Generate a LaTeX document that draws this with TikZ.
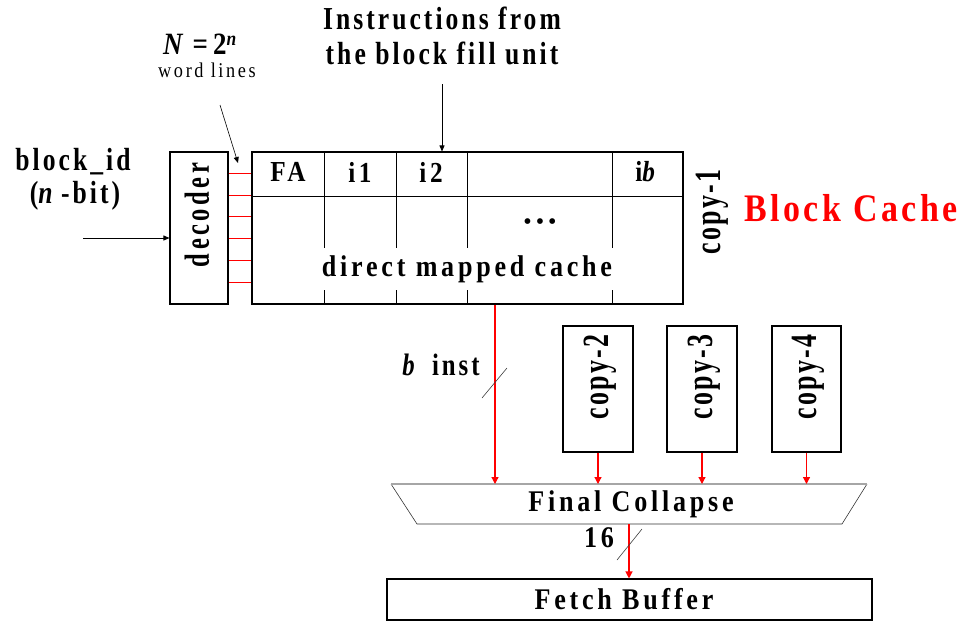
\documentclass[tikz,border=0pt]{standalone}
\usepackage{fontspec}
\setmainfont{Liberation Serif}
\newfontfamily\spfont[LetterSpace=12.5,FakeStretch=0.87]{Liberation Serif}
\newfontfamily\hfont[LetterSpace=9.5,FakeStretch=0.8]{Liberation Serif}
\newfontfamily\bcfont[LetterSpace=9,FakeStretch=0.87]{Liberation Serif}
\newfontfamily\rotA[LetterSpace=10,FakeStretch=0.7]{Liberation Serif}
\newfontfamily\rotB[LetterSpace=6,FakeStretch=0.7]{Liberation Serif}
\usetikzlibrary{arrows.meta}
\begin{document}
\begin{tikzpicture}[x=1pt,y=-1pt,
  box/.style={draw,line width=1.1pt,rectangle,inner sep=0pt},
  lbl/.style={font=\spfont\bfseries\fontsize{29}{30}\selectfont,inner sep=1pt},
  copylbl/.style={rotate=90,inner sep=1pt,font=\rotB\bfseries\fontsize{37}{30}\selectfont},
  wire/.style={line width=0.9pt},
  redarr/.style={red,line width=1.2pt,-{Triangle[length=7pt,width=7pt]}},
  blkarr/.style={black,line width=0.8pt,-{Triangle[length=6pt,width=5pt]}},
  slash/.style={black!75,line width=0.6pt}]
\useasboundingbox (0,0) rectangle (962,622);
% boxes
\node[box,minimum width=58pt,minimum height=152pt] (decoder) at (199,228) {};
\node[rotate=90,inner sep=1pt,font=\rotA\bfseries\fontsize{35}{30}\selectfont] (dectext) at (197,215) {decoder};
\node[box,minimum width=431pt,minimum height=152pt] (cache) at (467.5,228) {};
\draw[wire] (252,196) -- (683,196);
\foreach \xx in {324,396,467,612} \draw[wire] (\xx,152) -- (\xx,304);
\node[lbl,fill=white,inner ysep=7pt,inner xsep=2pt,font=\spfont\bfseries\fontsize{30}{30}\selectfont] (dmc) at (467,269) {direct mapped cache};
\node[lbl] (fa) at (288,172) {FA};
\node[lbl] (i1) at (360,172) {i1};
\node[lbl] (i2) at (431,172) {i2};
\node[lbl] (ib) at (647,172) {i\textit{b}};
\node[inner sep=0pt,font=\fontsize{24}{24}\selectfont] (dots) at (540,224) {\textbullet\hspace{4pt}\textbullet\hspace{4pt}\textbullet};
% word lines
\foreach \yy in {173,195,216,238,260,282}
  \draw[red,line width=0.8pt] (decoder.east |- 0,\yy) -- (cache.west |- 0,\yy);
% labels
\node[inner sep=1pt,align=center,font=\hfont\bfseries\fontsize{32}{35}\selectfont] (instr) at (442,36) {Instructions from\\the block fill unit};
\coordinate (instrend) at (442,84);
\draw[blkarr] (instrend) -- (cache.north -| instrend);
\node[inner sep=0pt,font=\spfont\bfseries\fontsize{31}{28}\selectfont] (nn) at (201,44) {\textit{N}\,=\,2\raisebox{9pt}{\fontsize{20}{18}\selectfont\textit{n}}};
\node[inner sep=0pt,font=\spfont\fontsize{21}{22}\selectfont] (wl) at (207,70) {word lines};
\coordinate (wla) at (220,105);
\coordinate (wlb) at (238,163);
\draw[black,line width=0.6pt,-{Triangle[length=6pt,width=5pt]}] (wla) -- (wlb);
\node[inner sep=1pt,font=\hfont\bfseries\fontsize{32}{30}\selectfont] (bid) at (73,162) {block\_id};
\node[inner sep=1pt,font=\hfont\bfseries\fontsize{32}{30}\selectfont] (nbit) at (75,196) {(\textit{n}\,-bit)};
\coordinate (bidin) at (83,238);
\draw[blkarr] (bidin) -- (decoder.west |- bidin);
\node[copylbl] (copy1) at (712,212) {copy-1};
\node[lbl,red,font=\bcfont\bfseries\fontsize{39}{38}\selectfont] (bc) at (851,208) {Block Cache};
% copies
\node[box,minimum width=70pt,minimum height=126pt] (copy2) at (598,389) {};
\node[box,minimum width=70pt,minimum height=126pt] (copy3) at (702,389) {};
\node[box,minimum width=69pt,minimum height=126pt] (copy4) at (806.5,389) {};
\node[copylbl] (c2t) at (600,377) {copy-2};
\node[copylbl] (c3t) at (704,377) {copy-3};
\node[copylbl] (c4t) at (808,377) {copy-4};
% final collapse
\draw[black!80,line width=0.6pt] (391,484) -- (417,524) -- (842,524) -- (867,484);
\draw[black!35,line width=1.3pt] (391,484) -- (867,484);
\coordinate (ctop) at (629,484);
\coordinate (cbot) at (629,524);
\node[lbl,font=\spfont\bfseries\fontsize{30}{30}\selectfont] (fc) at (631,504) {Final Collapse};
\node[box,minimum width=485pt,minimum height=41pt] (fetch) at (629.5,599.5) {};
\node[lbl,font=\spfont\bfseries\fontsize{30}{30}\selectfont] (fbt) at (624,599) {Fetch Buffer};
% arrows
\coordinate (mx) at (495,0);
\draw[redarr] (cache.south -| mx) -- (ctop -| mx);
\draw[redarr] (copy2.south) -- (ctop -| copy2.south);
\draw[redarr] (copy3.south) -- (ctop -| copy3.south);
\draw[redarr] (copy4.south) -- (ctop -| copy4.south);
\draw[redarr] (cbot) -- (fetch.north -| cbot);
% bus labels
\node[inner sep=1pt,font=\hfont\bfseries\fontsize{31}{30}\selectfont] (binst) at (441,365) {\textit{b}\, inst};
\coordinate (s1a) at (482,398); \coordinate (s1b) at (507,368);
\draw[slash] (s1a) -- (s1b);
\node[lbl,font=\spfont\bfseries\fontsize{30}{30}\selectfont] (sixteen) at (599,538) {16};
\coordinate (s2a) at (617,560); \coordinate (s2b) at (642,529);
\draw[slash] (s2a) -- (s2b);
\end{tikzpicture}
\end{document}
